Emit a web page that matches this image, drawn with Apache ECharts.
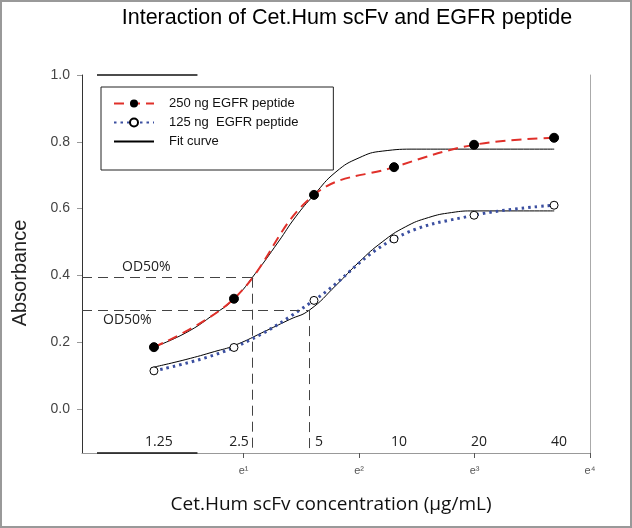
<!DOCTYPE html>
<html><head><meta charset="utf-8">
<script src="https://cdn.jsdelivr.net/npm/echarts@6/dist/echarts.min.js"></script>
<style>html,body{margin:0;padding:0;background:#fff}#c{width:632px;height:528px}</style>
</head><body><div id="c"></div>
<script>
// concentrations (µg/mL) and measured absorbance
const concentrations = [1.25, 2.5, 5, 10, 20, 40];
const concLabels = ['1.25', '2.5', '5', '10', '20', '40'];
const abs250 = [0.185, 0.330, 0.641, 0.724, 0.791, 0.812];
const abs125 = [0.114, 0.184, 0.325, 0.509, 0.580, 0.610];
// fit curves: x = ln(concentration)
const fit250Ln = [0.22, 0.5, 0.75, 0.92, 1.1, 1.3, 1.45, 1.61, 1.8, 2.0, 2.2, 2.5, 3.0, 3.69];
const fit250Abs = [0.185, 0.228, 0.285, 0.330, 0.405, 0.500, 0.575, 0.641, 0.710, 0.752, 0.772, 0.778, 0.778, 0.778];
const fit125Ln = [0.22, 0.5, 0.75, 0.92, 1.2, 1.4, 1.57, 1.8, 2.0, 2.2, 2.4, 2.6, 2.8, 3.0, 3.69];
const fit125Abs = [0.125, 0.148, 0.172, 0.190, 0.235, 0.268, 0.296, 0.370, 0.440, 0.500, 0.545, 0.573, 0.588, 0.593, 0.593];
// OD50% reference points
const od50Conc = [2.93, 4.81];
const od50Abs = [0.393, 0.296];
// axis ticks
const xTickExp = [1, 2, 3, 4];
const xTickLabels = ['e¹', 'e²', 'e³', 'e⁴'];
const yTicks = [0, 0.2, 0.4, 0.6, 0.8, 1.0];

const X_MIN = -0.4, X_MAX = 4, Y_MIN = -0.132, Y_MAX = 1.0;
const lnConc = concentrations.map(c => Math.log(c));
const zip = (xs, ys) => xs.map((x, i) => [x, ys[i]]);
const od50Ln = od50Conc.map(c => Math.log(c));
const calibri = '"Open Sans", "Noto Sans", sans-serif';
const arial = '"Liberation Sans", Arial, sans-serif';

const dashed = {type: [10, 6], color: '#444', width: 1};
const odLines = [
  [{coord: [X_MIN, od50Abs[0]], label: {show: true, position: 'insideStartTop', formatter: 'OD50%', padding: [0, 0, 0, 36], distance: 4}}, {coord: [od50Ln[0], od50Abs[0]]}],
  [{coord: [od50Ln[0], od50Abs[0]]}, {coord: [od50Ln[0], Y_MIN]}],
  [{coord: [X_MIN, od50Abs[1]], label: {show: true, position: 'insideStartBottom', formatter: 'OD50%', padding: [0, 0, 0, 18], distance: 3}}, {coord: [od50Ln[1], od50Abs[1]]}],
  [{coord: [od50Ln[1], od50Abs[1]]}, {coord: [od50Ln[1], Y_MIN]}],
];

const option = {
  animation: false,
  backgroundColor: '#fff',
  title: [
    {text: 'Interaction of Cet.Hum scFv and EGFR peptide', left: 342, top: 2, textAlign: 'center',
     textStyle: {fontSize: 21.5, fontWeight: 'normal', color: '#000', fontFamily: arial}},
    {text: 'Cet.Hum scFv concentration (µg/mL)', left: 326, top: 490, textAlign: 'center',
     textStyle: {fontSize: 19, fontWeight: 'normal', color: '#111', fontFamily: calibri}}
  ],
  grid: {left: 82, right: 42, top: 75, bottom: 75, containLabel: false},
  legend: {
    orient: 'vertical', left: 101, top: 87,
    data: [{name: '250 ng EGFR peptide'}, {name: '125 ng  EGFR peptide'}, {name: 'Fit curve', itemStyle: {opacity: 0}}],
    itemWidth: 40, itemHeight: 10, itemGap: 6,
    padding: [10, 35, 22, 12],
    borderColor: '#222', borderWidth: 1,
    textStyle: {fontSize: 13, color: '#111', fontFamily: arial, padding: [0, 0, 0, 10]}
  },
  graphic: [{type: 'rect', shape: {x: 1, y: 1, width: 630, height: 526}, style: {fill: 'none', stroke: '#999', lineWidth: 2}, silent: true}],
  xAxis: [
    {type: 'value', min: X_MIN, max: X_MAX, position: 'bottom',
     axisLine: {onZero: false, lineStyle: {color: '#999', width: 1}},
     axisTick: {show: true, customValues: xTickExp, length: 5, lineStyle: {color: '#555'}},
     axisLabel: {customValues: xTickExp, formatter: v => xTickLabels[xTickExp.indexOf(Math.round(v))] || '',
                 fontSize: 11, color: '#555', margin: 12, fontFamily: arial},
     splitLine: {show: false}},
    {type: 'value', min: X_MIN, max: X_MAX, position: 'bottom',
     axisLine: {show: false, onZero: false}, axisTick: {show: false},
     axisLabel: {inside: true, customValues: lnConc, margin: 4, padding: [0, 0, 0, 10],
                 formatter: v => { let b = 0; lnConc.forEach((l, i) => { if (Math.abs(l - v) < Math.abs(lnConc[b] - v)) b = i; }); return concLabels[b]; },
                 fontSize: 14, color: '#222', fontFamily: calibri},
     splitLine: {show: false}}
  ],
  yAxis: [
    {type: 'value', min: Y_MIN, max: Y_MAX,
     axisLine: {show: true, onZero: false, lineStyle: {color: '#333'}},
     axisTick: {show: true, customValues: yTicks, length: 5, lineStyle: {color: '#999'}},
     axisLabel: {customValues: yTicks, formatter: v => v.toFixed(1), fontSize: 14, color: '#444', margin: 12, fontFamily: arial},
     splitLine: {show: false},
     name: 'Absorbance', nameLocation: 'middle', nameGap: 52,
     nameTextStyle: {fontSize: 20, color: '#222', fontFamily: arial, padding: [0, 18, 0, 0]}},
    {type: 'value', min: Y_MIN, max: Y_MAX, position: 'right',
     axisLine: {show: true, onZero: false, lineStyle: {color: '#aaa'}}, axisTick: {show: false}, axisLabel: {show: false}, splitLine: {show: false}}
  ],
  series: [
    {name: 'Fit curve', type: 'line', data: zip(fit250Ln, fit250Abs), smooth: true, symbol: 'none',
     lineStyle: {color: '#000', width: 1}, itemStyle: {color: '#000'}, z: 2},
    {name: 'Fit curve', type: 'line', data: zip(fit125Ln, fit125Abs), smooth: true, symbol: 'none',
     lineStyle: {color: '#000', width: 1}, itemStyle: {color: '#000'}, z: 2},
    {name: '250 ng EGFR peptide', type: 'line', data: zip(lnConc, abs250), smooth: 0.4,
     symbol: 'circle', symbolSize: 9,
     lineStyle: {color: '#e0302a', width: 2, type: [10, 6]}, itemStyle: {color: '#000', borderColor: '#000'}, z: 3},
    {name: '125 ng  EGFR peptide', type: 'line', data: zip(lnConc, abs125), smooth: 0.4,
     symbol: 'circle', symbolSize: 8,
     lineStyle: {color: '#3b4fa0', width: 3, type: [2.5, 4]}, itemStyle: {color: '#fff', borderColor: '#000', borderWidth: 1}, z: 3},
    {name: 'ref', type: 'line', data: [], silent: true,
     markLine: {silent: true, symbol: 'none', animation: false, lineStyle: dashed,
       label: {show: false, color: '#222', fontSize: 14, fontFamily: calibri},
       data: odLines}},
    {name: 'frame', type: 'line', data: [], silent: true,
     markLine: {silent: true, symbol: 'none', animation: false, label: {show: false},
       lineStyle: {type: 'solid', color: '#111', width: 1.5},
       data: [[{coord: [-0.27, Y_MAX]}, {coord: [0.6, Y_MAX]}], [{coord: [-0.27, Y_MIN]}, {coord: [0.6, Y_MIN]}]]}}
  ]
};
const chart = echarts.init(document.getElementById('c'), null, {renderer: 'canvas'});
chart.setOption(option);
</script></body></html>
